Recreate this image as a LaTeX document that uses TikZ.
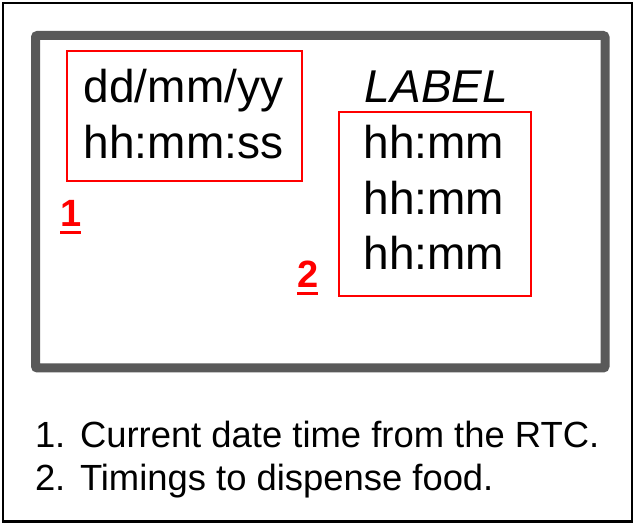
\documentclass[tikz,border=0pt]{standalone}
\usepackage{fontspec}
\setmainfont{Liberation Sans}
\usepackage{tikz}

\definecolor{frameColor}{RGB}{89,89,89}
\definecolor{markColor}{RGB}{255,0,0}
\newcommand\marknum[1]{\setbox0\hbox{#1}\rlap{\rule[-7.5pt]{\wd0}{3.5pt}}\box0}

\begin{document}
\begin{tikzpicture}[x=1pt,y=-1pt,
  big/.style={inner sep=0pt, outer sep=0pt, anchor=base, font=\fontsize{46}{56}\selectfont},
  small/.style={inner sep=0pt, outer sep=0pt, anchor=base west, font=\fontsize{36.4}{43}\selectfont},
  redbox/.style={draw=markColor, line width=1.8pt, inner sep=0pt},
  marker/.style={text=markColor, inner sep=0pt, outer sep=0pt, anchor=base west, font=\fontsize{38}{40}\selectfont\bfseries}]
\path[use as bounding box,fill=white] (0,0) rectangle (635,526);

% outer border and display frame
\draw[line width=2.5pt] (3,3) rectangle (632,521.5);
\draw[frameColor, line width=9pt, rounded corners=2pt] (35.5,35.5) rectangle (605,368);

% date and time
\node[redbox, minimum width=235pt, minimum height=130pt] (clockbox) at (184.5,116) {};
\node[big] (date) at (183.5,103) {dd/mm/yy};
\node[big] (time) at (183.5,159) {hh:mm:ss};

% feeding times
\node[big, font=\fontsize{46}{56}\selectfont\itshape] (label) at (436.5,103) {LABEL};
\node[redbox, minimum width=192pt, minimum height=184pt] (timesbox) at (435,204) {};
\node[big] (slotA) at (434,159) {hh:mm};
\node[big] (slotB) at (434,215) {hh:mm};
\node[big] (slotC) at (434,270) {hh:mm};

% markers
\node[marker] (markA) at (60,227) {\marknum{1}};
\node[marker] (markB) at (297,288) {\marknum{2}};

% legend
\node[small] (numA) at (35,448) {1.};
\node[small] (itemA) at (80,448) {Current date time from the RTC.};
\node[small] (numB) at (35,491) {2.};
\node[small] (itemB) at (80,491) {Timings to dispense food.};
\end{tikzpicture}
\end{document}
